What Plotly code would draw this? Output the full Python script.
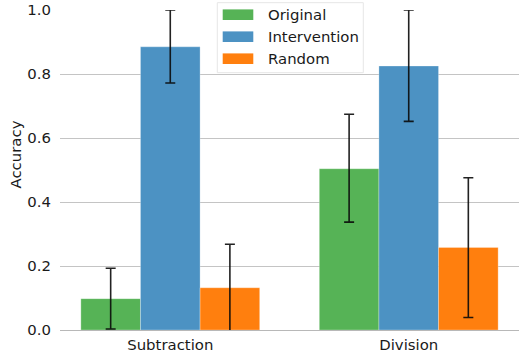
import plotly.graph_objects as go

categories = ["Subtraction", "Division"]
series_names = ["Original", "Intervention", "Random"]
series_colors = ["#56b356", "#4c92c3", "#ff7f0e"]
values = {
    "Original": [0.098, 0.504],
    "Intervention": [0.885, 0.825],
    "Random": [0.132, 0.258],
}
err_plus = {
    "Original": [0.095, 0.170],
    "Intervention": [0.115, 0.175],
    "Random": [0.136, 0.218],
}
err_minus = {
    "Original": [0.095, 0.167],
    "Intervention": [0.113, 0.173],
    "Random": [0.136, 0.219],
}
y_ticks = [0.0, 0.2, 0.4, 0.6, 0.8, 1.0]
y_label = "Accuracy"

W, H = 519, 358
ML, MR, MT, MB = 60, 0, 10, 28
PW, PH = W - ML - MR, H - MT - MB
FONT = "DejaVu Sans"
FS = 14.9

def px_x(px):
    return (px - ML) / PW

def px_y(py):
    return (H - MB - py) / PH

fig = go.Figure()
for name, col in zip(series_names, series_colors):
    fig.add_trace(go.Bar(
        x=categories, y=values[name], name=name,
        marker=dict(color=col, line=dict(color="rgba(255,255,255,0.35)", width=0.8)),
        error_y=dict(type="data", symmetric=False, array=err_plus[name],
                     arrayminus=err_minus[name], color="rgba(10,10,10,0.9)",
                     thickness=1.6, width=5),
        showlegend=False,
    ))

# custom legend (matplotlib style)
shapes = [dict(type="rect", xref="paper", yref="paper",
               x0=px_x(217.3), x1=px_x(363.3), y0=px_y(72.7), y1=px_y(2.7),
               fillcolor="white", line=dict(color="#e6e6e6", width=1), layer="above")]
annotations = []
row0, dy = 14.7, 22.0
for i, (name, col) in enumerate(zip(series_names, series_colors)):
    cy = row0 + i * dy
    shapes.append(dict(type="rect", xref="paper", yref="paper",
                       x0=px_x(222.7), x1=px_x(253.3), y0=px_y(cy + 5.3), y1=px_y(cy - 5.3),
                       fillcolor=col, line=dict(width=0), layer="above"))
    annotations.append(dict(xref="paper", yref="paper", x=px_x(265.5), y=px_y(cy),
                            text=name, showarrow=False, xanchor="left", yanchor="middle",
                            font=dict(family=FONT, size=FS, color="#1a1a1a")))

annotations.append(dict(xref="paper", yref="paper", x=px_x(15.5), y=px_y(155),
                        text=y_label, showarrow=False, textangle=-90,
                        xanchor="center", yanchor="middle",
                        font=dict(family=FONT, size=FS, color="#1a1a1a")))

fig.update_layout(
    width=W, height=H,
    margin=dict(l=ML, r=MR, t=MT, b=MB, pad=0),
    paper_bgcolor="white", plot_bgcolor="white",
    barmode="group", bargap=0.25, bargroupgap=0,
    font=dict(family=FONT, size=FS, color="#1a1a1a"),
    shapes=shapes, annotations=annotations,
    showlegend=False,
)
fig.update_xaxes(
    type="category", range=[-0.4625, 1.4625],
    showline=True, linecolor="#b8b8b8", linewidth=1,
    showgrid=False, ticks="", ticklabelstandoff=1,
    tickfont=dict(family=FONT, size=FS, color="#1a1a1a"),
)
fig.update_yaxes(
    range=[0, 1.0], tickvals=y_ticks, ticktext=[f"{v:.1f}" for v in y_ticks],
    showgrid=True, gridcolor="#c4c4c4", gridwidth=1, zeroline=False,
    showline=False, ticks="", ticklabelstandoff=8,
    tickfont=dict(family=FONT, size=FS, color="#1a1a1a"),
)

fig.write_html("out.html")
